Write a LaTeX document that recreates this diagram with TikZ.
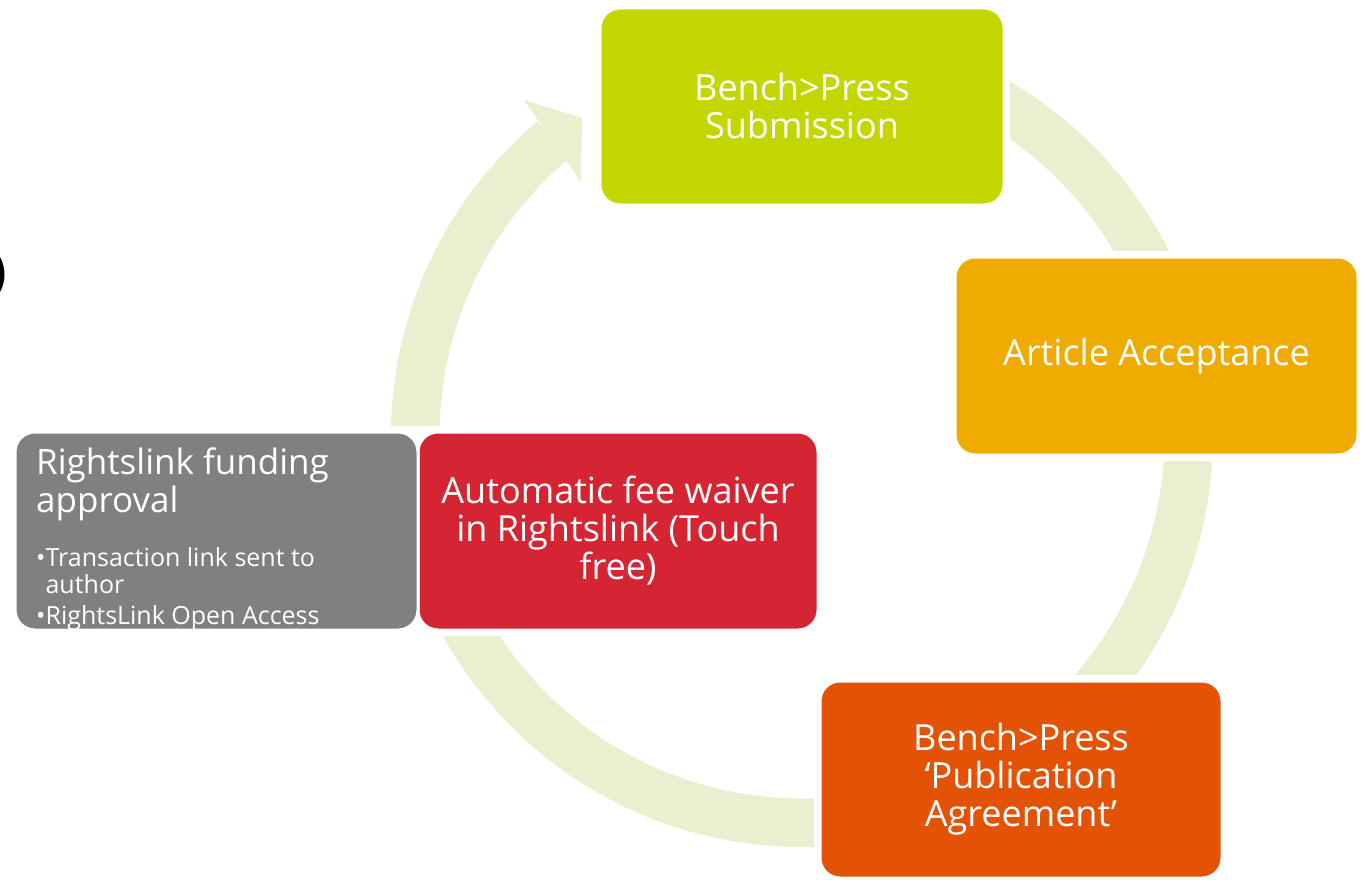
\documentclass[tikz,border=0pt]{standalone}
\usepackage{fontspec}
\setmainfont{Open Sans}
\usetikzlibrary{calc}
\definecolor{cgreen}{RGB}{196,214,0}
\definecolor{corange}{RGB}{240,171,0}
\definecolor{cdorange}{RGB}{227,82,5}
\definecolor{cred}{RGB}{213,37,50}
\definecolor{cgray}{RGB}{128,128,128}
\definecolor{cband}{RGB}{233,239,207}
\begin{document}
\begin{tikzpicture}[x=1pt,y=1pt,
  boxstyle/.style={rounded corners=20pt, draw=white, line width=3pt, text=white,
    align=center, inner sep=0pt, font=\fontsize{36}{38}\selectfont},
  bigtext/.style={text=white, inner sep=0pt, font=\fontsize{35}{38}\selectfont},
  smalltext/.style={text=white, inner sep=0pt, font=\fontsize{25}{29}\selectfont},
  bandline/.style={draw=cband, line width=48.5pt},
  mask/.style={fill=white}]
\useasboundingbox (0,0) rectangle (1363,-880);
% stray black mark at left edge
\fill[black] (0,-257) .. controls (6,-268) and (6,-281) .. (0,-292) -- cycle;
% cycle band
\coordinate (C) at (802,-436);
\draw[bandline] ($(C)+(130:386.75pt)$) arc[start angle=130, end angle=420, radius=386.75pt];
\fill[cband] (524,-100) -- (582,-118) -- (581,-182) -- cycle;
% gaps around the boxes
\fill[mask] (594,-2) rectangle (1010,-211);
\fill[mask] (949,-251) rectangle (1364,-461);
\fill[mask] (814,-675) rectangle (1228,-884);
\fill[mask] (9,-426) rectangle (824,-636);
% boxes
\node[boxstyle, fill=cgreen, minimum width=404pt, minimum height=197pt] (sub) at (802,-106.5)
  {Bench>Press\\Submission};
\node[boxstyle, fill=corange, minimum width=403pt, minimum height=198pt] (acc) at (1156.5,-356)
  {Article Acceptance};
\node[boxstyle, fill=cdorange, minimum width=402pt, minimum height=197pt] (pub) at (1021,-779.5)
  {Bench>Press\\‘Publication\\Agreement’};
\node[boxstyle, fill=cred, minimum width=400pt, minimum height=198pt] (fee) at (618,-531)
  {Automatic fee waiver\\in Rightslink (Touch\\free)};
\node[boxstyle, fill=cgray, minimum width=403pt, minimum height=198pt] (fund) at (216.5,-531) {};
\node[bigtext, anchor=base west] (ft1) at (36,-474.3) {Rightslink funding};
\node[bigtext, anchor=base west] (ft2) at (36,-512.5) {approval};
\node[smalltext, anchor=base west] (fb1) at (36,-566.5) {•Transaction link sent to};
\node[smalltext, anchor=base west] (fb2) at (36,-593.5) {\phantom{•}author};
\node[smalltext, anchor=base west] (fb3) at (36,-624) {•RightsLink Open Access};
\end{tikzpicture}
\end{document}
